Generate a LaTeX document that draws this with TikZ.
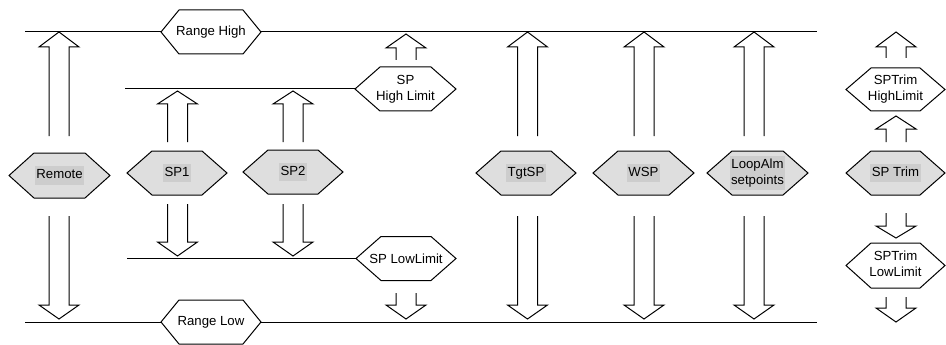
\documentclass[tikz,border=0pt]{standalone}
\usepackage{fontspec}
\setmainfont{Liberation Sans}
\usetikzlibrary{backgrounds}
\definecolor{hexgray}{HTML}{DEDEDE}
\definecolor{hlgray}{HTML}{CDCDCD}
\newcommand\hltext[1]{{\setlength\fboxsep{1.5pt}\colorbox{hlgray}{\begin{tabular}{@{}c@{}}#1\end{tabular}}}}
\newcommand\plaintext[1]{\begin{tabular}{@{}c@{}}#1\end{tabular}}
\newcommand\hexpath[3]{\path[hexline,fill=#3] (#1.west) -- ([xshift=#2]#1.north west) -- ([xshift=-#2]#1.north east) -- (#1.east) -- ([xshift=-#2]#1.south east) -- ([xshift=#2]#1.south west) -- cycle;}
\newcommand\blkup[4]{\draw[blk] (#1-10,#4) -- (#1-10,#3) -- (#1-20,#3) -- (#1,#2) -- (#1+20,#3) -- (#1+10,#3) -- (#1+10,#4);}
\newcommand\blkdown[4]{\draw[blk] (#1-10,#4) -- (#1-10,#3) -- (#1-20,#3) -- (#1,#2) -- (#1+20,#3) -- (#1+10,#3) -- (#1+10,#4);}
\begin{document}
\begin{tikzpicture}[x=1pt,y=-1pt,
  every node/.style={font=\fontsize{13.2}{15.8}\selectfont},
  hexbox/.style={rectangle,inner sep=0pt,outer sep=0pt,minimum height=44pt},
  hexline/.style={draw=black,line width=1pt,line join=miter},
  blk/.style={draw=black,line width=1pt,line join=miter},
  rule/.style={draw=black,line width=1pt}]
\useasboundingbox (0,0) rectangle (946,345);
% white hexagons
\node[hexbox,minimum width=100pt] (rh) at (211,32) {Range High};
\node[hexbox,minimum width=100pt] (rl) at (211,322) {Range Low};
\node[hexbox,minimum width=101pt] (sphl) at (405.5,89) {\plaintext{SP\\High Limit}};
\node[hexbox,minimum width=100pt] (spll) at (406,258.5) {SP LowLimit};
\node[hexbox,minimum width=99pt,minimum height=43pt] (trimhl) at (895.5,89.5) {\plaintext{SPTrim\\HighLimit}};
\node[hexbox,minimum width=99pt,minimum height=45pt] (trimll) at (895.5,265.5) {\plaintext{SPTrim\\LowLimit}};
% grey hexagons
\node[hexbox,minimum width=101pt,minimum height=45pt] (remote) at (59.5,175.5) {\hltext{Remote}};
\node[hexbox,minimum width=100pt] (sp1) at (177,173) {\hltext{SP1}};
\node[hexbox,minimum width=100pt] (sp2) at (293,172) {\hltext{SP2}};
\node[hexbox,minimum width=100pt] (tgtsp) at (526,173) {\hltext{TgtSP}};
\node[hexbox,minimum width=101pt] (wsp) at (643.5,173) {\hltext{WSP}};
\node[hexbox,minimum width=101pt] (loopalm) at (757.5,173) {\hltext{LoopAlm\\setpoints}};
\node[hexbox,minimum width=99pt] (sptrim) at (895.5,173) {\hltext{SP Trim}};
\begin{pgfonlayer}{background}
\hexpath{rh}{18pt}{white}
\hexpath{rl}{18pt}{white}
\hexpath{sphl}{25pt}{white}
\hexpath{spll}{25pt}{white}
\hexpath{trimhl}{25pt}{white}
\hexpath{trimll}{25pt}{white}
\hexpath{remote}{25pt}{hexgray}
\hexpath{sp1}{25pt}{hexgray}
\hexpath{sp2}{25pt}{hexgray}
\hexpath{tgtsp}{25pt}{hexgray}
\hexpath{wsp}{25pt}{hexgray}
\hexpath{loopalm}{25pt}{hexgray}
\hexpath{sptrim}{25pt}{hexgray}
\end{pgfonlayer}
% horizontal rules
\coordinate (tl) at (25,32);
\coordinate (tr) at (817,32);
\coordinate (bl) at (25,322);
\coordinate (br) at (817,322);
\coordinate (hl) at (125,89);
\coordinate (ll) at (127,258.5);
\draw[rule] (tl) -- (rh.west);
\draw[rule] (rh.east) -- (tr);
\draw[rule] (bl) -- (rl.west);
\draw[rule] (rl.east) -- (br);
\draw[rule] (hl) -- (sphl.west);
\draw[rule] (ll) -- (spll.west);
% block arrows
\blkup{59}{32}{47}{136}
\blkdown{59}{319}{305}{216}
\blkup{177.5}{91}{104}{142}
\blkdown{177.5}{256}{242}{204}
\blkup{293}{91}{104}{142}
\blkdown{293}{256}{242}{204}
\blkup{406}{34}{48}{60}
\blkdown{406}{319}{305}{293}
\blkup{527.5}{32}{47}{136}
\blkdown{527.5}{319}{305}{216}
\blkup{644}{32}{47}{136}
\blkdown{644}{319}{305}{216}
\blkup{754}{32}{47}{136}
\blkdown{754}{319}{305}{216}
\blkup{896}{32}{47}{58}
\blkup{896}{116}{129}{142}
\blkdown{896}{238}{226}{213}
\blkdown{896}{322}{308}{297}
\end{tikzpicture}
\end{document}
